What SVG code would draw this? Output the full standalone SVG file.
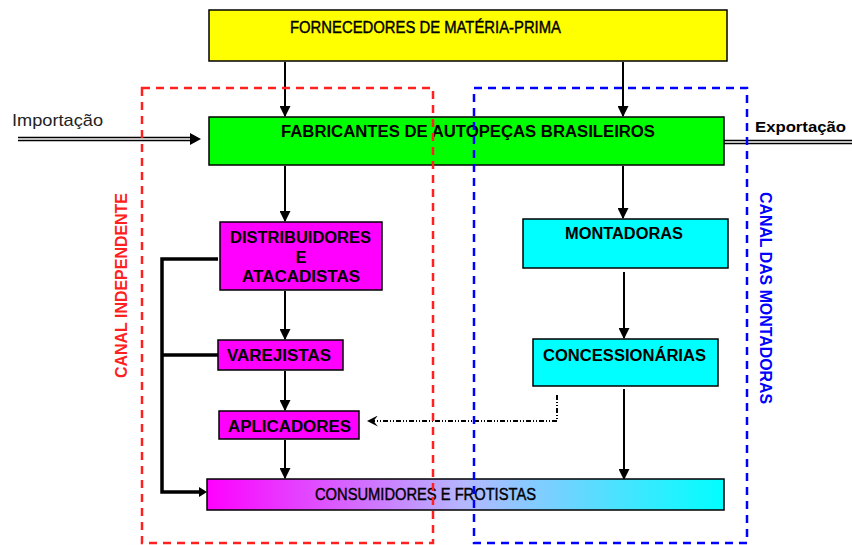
<svg xmlns="http://www.w3.org/2000/svg" width="852" height="545" viewBox="0 0 852 545">
<defs>
<style>
.box{stroke:#000;stroke-width:1.5}
.t{font-family:"Liberation Sans",Arial,sans-serif;font-size:16px;fill:#000;text-anchor:middle}
.r{stroke:#000;stroke-width:0.4}
.b{font-weight:bold}
.c{stroke:#000;stroke-width:2;fill:none}
.thick{stroke:#000;stroke-width:3.5;fill:none}
</style>
<marker id="ahL" viewBox="0 0 10 10" refX="9" refY="5" markerWidth="11" markerHeight="11" orient="auto" markerUnits="userSpaceOnUse">
<path d="M0,0 L10,5 L0,10 z" fill="#000"/>
</marker>
<marker id="ahD" viewBox="0 0 10 10" refX="9" refY="5" markerWidth="11" markerHeight="11" orient="auto" markerUnits="userSpaceOnUse">
<path d="M0,0 L10,5 L0,10 L4,5 z" fill="#000"/>
</marker>
<linearGradient id="grad" x1="0" y1="0" x2="1" y2="0">
<stop offset="0" stop-color="#FF00FF"/>
<stop offset="0.5" stop-color="#B4B8FF"/>
<stop offset="1" stop-color="#00FFFF"/>
</linearGradient>
</defs>
<rect width="852" height="545" fill="#fff"/>

<g id="connectors">
<line class="c" x1="285" y1="62" x2="285" y2="116" marker-end="url(#ahL)"/>
<line class="c" x1="623" y1="62" x2="623" y2="116" marker-end="url(#ahL)"/>
<line class="c" x1="285" y1="166" x2="285" y2="221" marker-end="url(#ahL)"/>
<line class="c" x1="623" y1="166" x2="623" y2="218" marker-end="url(#ahL)"/>
<line class="c" x1="624" y1="272" x2="624" y2="338" marker-end="url(#ahL)"/>
<line class="c" x1="624" y1="389" x2="624" y2="479" marker-end="url(#ahL)"/>
<line class="c" x1="285" y1="291" x2="285" y2="339" marker-end="url(#ahL)"/>
<line class="c" x1="285" y1="371" x2="285" y2="410" marker-end="url(#ahL)"/>
<line class="c" x1="285" y1="440" x2="285" y2="478" marker-end="url(#ahL)"/>
<path class="thick" d="M218,259 H162 V492 H199"/>
<path d="M199,487 L207,492 L199,497 z" fill="#000"/>
<line class="thick" x1="162" y1="355" x2="218" y2="355"/>
<path d="M557,395 V421 H368" fill="none" stroke="#000" stroke-width="2" stroke-dasharray="5,2,1,2,1,2" marker-end="url(#ahD)"/>
<line x1="18" y1="139" x2="196" y2="139" stroke="#000" stroke-width="4.5"/>
<line x1="18" y1="139" x2="196" y2="139" stroke="#fff" stroke-width="1.5"/>
<path d="M190,133 L201,139 L190,145 z" fill="#000"/>
<line x1="724" y1="142" x2="852" y2="142" stroke="#000" stroke-width="4.5"/>
<line x1="724" y1="142" x2="852" y2="142" stroke="#fff" stroke-width="1.5"/>
</g>

<g id="fornecedores">
<rect class="box" x="209" y="10" width="518" height="51" fill="#FFFF00"/>
<text class="t r" x="425.5" y="33" textLength="271" lengthAdjust="spacingAndGlyphs">FORNECEDORES DE MATÉRIA-PRIMA</text>
</g>
<g id="fabricantes">
<rect class="box" x="209" y="117" width="515" height="48" fill="#00FF00"/>
<text class="t b" x="468" y="137" textLength="374" lengthAdjust="spacingAndGlyphs">FABRICANTES DE AUTOPEÇAS BRASILEIROS</text>
</g>
<g id="distribuidores">
<rect class="box" x="220" y="222" width="162" height="68" fill="#FF00FF"/>
<text class="t b" x="300.5" y="243" textLength="141" lengthAdjust="spacingAndGlyphs">DISTRIBUIDORES</text>
<text class="t b" x="301" y="263">E</text>
<text class="t b" x="301" y="282" textLength="118" lengthAdjust="spacingAndGlyphs">ATACADISTAS</text>
</g>
<g id="varejistas">
<rect class="box" x="218" y="340" width="125" height="30" fill="#FF00FF"/>
<text class="t b" x="279" y="361" textLength="104" lengthAdjust="spacingAndGlyphs">VAREJISTAS</text>
</g>
<g id="aplicadores">
<rect class="box" x="219" y="411" width="140" height="28" fill="#FF00FF"/>
<text class="t b" x="289.5" y="432" textLength="123" lengthAdjust="spacingAndGlyphs">APLICADORES</text>
</g>
<g id="montadoras">
<rect class="box" x="523" y="219" width="205" height="49" fill="#00FFFF"/>
<text class="t b" x="624" y="239" textLength="118" lengthAdjust="spacingAndGlyphs">MONTADORAS</text>
</g>
<g id="concessionarias">
<rect class="box" x="533" y="339" width="185" height="47" fill="#00FFFF"/>
<text class="t b" x="624.5" y="361" textLength="163" lengthAdjust="spacingAndGlyphs">CONCESSIONÁRIAS</text>
</g>
<g id="consumidores">
<rect class="box" x="207" y="479" width="517" height="31" fill="url(#grad)"/>
<text class="t r" x="425.5" y="500" textLength="221" lengthAdjust="spacingAndGlyphs">CONSUMIDORES E FROTISTAS</text>
</g>

<g id="labels">
<text x="12" y="126" font-family="'Liberation Sans',Arial,sans-serif" font-size="17" fill="#222" textLength="91" lengthAdjust="spacingAndGlyphs">Importação</text>
<text x="755" y="132" font-family="'Liberation Sans',Arial,sans-serif" font-size="15" font-weight="bold" fill="#000" textLength="91" lengthAdjust="spacingAndGlyphs">Exportação</text>
</g>

<g id="canal-independente">
<rect x="142" y="88" width="291" height="455" fill="none" stroke="#FF2020" stroke-width="2.5" stroke-dasharray="8,6"/>
<text transform="translate(127,285.5) rotate(-90)" text-anchor="middle" font-family="'Liberation Sans',Arial,sans-serif" font-size="16" font-weight="bold" fill="#FF2020" textLength="185" lengthAdjust="spacingAndGlyphs">CANAL INDEPENDENTE</text>
</g>
<g id="canal-montadoras">
<rect x="474" y="88" width="273" height="455" fill="none" stroke="#0000FF" stroke-width="2.5" stroke-dasharray="8,6"/>
<text transform="translate(760,298) rotate(90)" text-anchor="middle" font-family="'Liberation Sans',Arial,sans-serif" font-size="16" font-weight="bold" fill="#0000FF" textLength="212" lengthAdjust="spacingAndGlyphs">CANAL DAS MONTADORAS</text>
</g>
</svg>
